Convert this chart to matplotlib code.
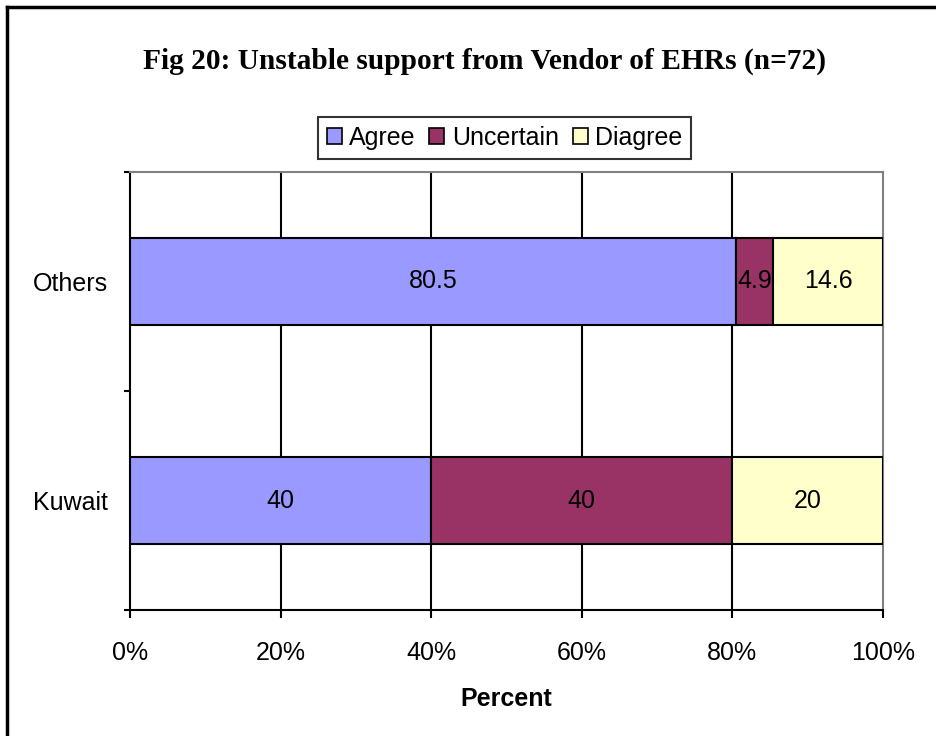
import matplotlib
matplotlib.use("Agg")
import matplotlib.pyplot as plt
from matplotlib.lines import Line2D
from matplotlib.patches import Patch
import numpy as np

categories = ["Kuwait", "Others"]
series_names = ["Agree", "Uncertain", "Diagree"]
agree = [40, 80.5]
uncertain = [40, 4.9]
diagree = [20, 14.6]
xtick_labels = ["0%", "20%", "40%", "60%", "80%", "100%"]
colors = ["#9999FF", "#993366", "#FFFFCC"]

plt.rcParams['font.family'] = ['Liberation Sans', 'DejaVu Sans']

W, H = 937, 736
fig = plt.figure(figsize=(W/100, H/100), dpi=100)
ax = fig.add_axes([130/W, 1-610/H, (883-130)/W, (610-172)/H])

y = np.arange(len(categories))
series = [agree, uncertain, diagree]
left = np.zeros(len(categories))
for vals, name, c in zip(series, series_names, colors):
    vals = np.array(vals, dtype=float)
    ax.barh(y, vals, left=left, height=0.4, color=c, edgecolor='black', linewidth=1.5, zorder=3, label=name)
    for yi, l, v in zip(y, left, vals):
        ax.text(l + v/2, yi, f"{v:g}", ha='center', va='center', fontsize=18, zorder=4)
    left = left + vals

ax.set_xlim(0, 100)
ax.set_ylim(-0.5, 1.5)
ax.set_xticks(np.arange(0, 101, 20))
ax.set_xticklabels(xtick_labels, fontsize=18)
ax.set_yticks(y)
ax.set_yticklabels(categories, fontsize=18)
ax.set_yticks([-0.5, 0.5, 1.5], minor=True)
ax.tick_params(axis='y', which='major', length=0, pad=16)
ax.tick_params(axis='y', which='minor', length=4.5, width=1.5, direction='out')
ax.tick_params(axis='x', which='major', length=6, width=1.5, direction='out', pad=16)

for xv in [20, 40, 60, 80]:
    ax.axvline(xv, color='black', linewidth=1.5, zorder=1)

for s in ['left', 'bottom']:
    ax.spines[s].set_linewidth(1.5)
    ax.spines[s].set_color('black')
for s in ['top', 'right']:
    ax.spines[s].set_linewidth(1.5)
    ax.spines[s].set_color('#808080')

ax.set_xlabel("Percent", fontsize=18, fontweight='bold', labelpad=16)

fig.text(485/W, 1-61/H, "Fig 20: Unstable support from Vendor of EHRs (n=72)",
         family=['Liberation Serif', 'DejaVu Serif'], fontweight='bold', fontsize=21.2,
         ha='center', va='center')

handles = [Patch(facecolor=c, edgecolor='black', linewidth=1.2) for c in colors]
leg = fig.legend(handles, series_names, loc='center', bbox_to_anchor=(504.5/W, 1-138/H),
                 ncol=3, fontsize=18, handlelength=0.6, handleheight=0.6,
                 columnspacing=0.55, handletextpad=0.3, borderpad=0.35,
                 fancybox=False, frameon=True, borderaxespad=0)
leg.get_frame().set_edgecolor('black')
leg.get_frame().set_linewidth(1.5)

# outer frame (top and left edges visible)
fig.add_artist(Line2D([7/W, 1.0], [1-7/H, 1-7/H], color='black', linewidth=2.5, transform=fig.transFigure))
fig.add_artist(Line2D([7/W, 7/W], [0, 1-7/H], color='black', linewidth=2.5, transform=fig.transFigure))

fig.savefig("out.png", dpi=100)
